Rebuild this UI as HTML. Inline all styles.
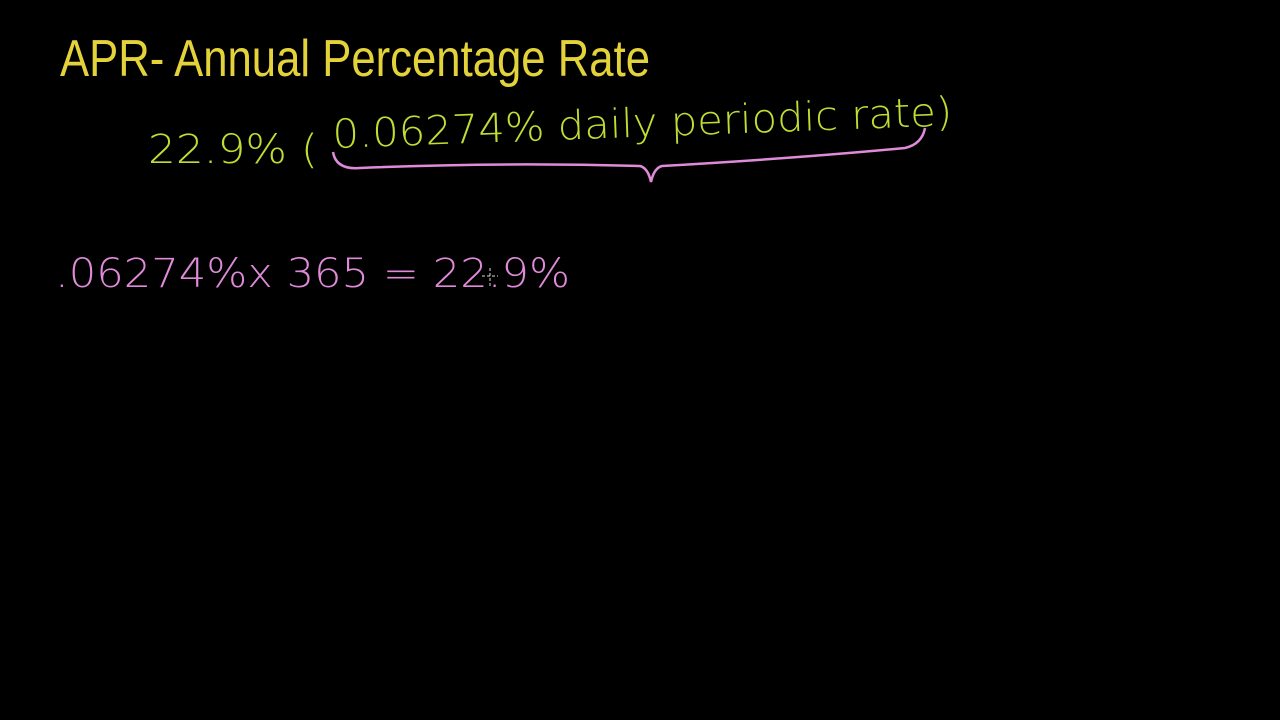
<!DOCTYPE html>
<html><head><meta charset="utf-8"><style>
html,body{margin:0;padding:0;background:#000;width:1280px;height:720px;overflow:hidden}
svg{display:block}
text{font-family:"DejaVu Sans","Liberation Sans",sans-serif;font-weight:200}
</style></head><body>
<svg width="1280" height="720" viewBox="0 0 1280 720">
<rect width="1280" height="720" fill="#000"/>
<text x="60" y="76" font-size="52" fill="#e3d23a" textLength="590" lengthAdjust="spacingAndGlyphs" style="font-family:'Liberation Sans Narrow','Liberation Sans',sans-serif">APR- Annual Percentage Rate</text>
<text x="148" y="163" font-size="40" fill="#c2dc34" textLength="170" lengthAdjust="spacingAndGlyphs">22.9% (</text>
<text x="333" y="148" font-size="40" fill="#c2dc34" textLength="620" lengthAdjust="spacingAndGlyphs" transform="rotate(-2.1 333 148)">0.06274% daily periodic rate)</text>
<path d="M333 152 Q336 170 360 168 Q500 162 640 166 Q648 168 651 182 Q654 168 662 166 Q800 158 905 148 Q922 144 925 128" fill="none" stroke="#e08ada" stroke-width="2.5"/>
<text x="55" y="287" font-size="40" fill="#e08ada" textLength="515" lengthAdjust="spacingAndGlyphs">.06274%x 365  =  22.9%</text>
<g stroke="#ddd" stroke-width="1">
<line x1="482" y1="276" x2="498" y2="276" stroke-dasharray="3,2"/>
<line x1="490" y1="268" x2="490" y2="286" stroke-dasharray="3,2"/>
</g>
</svg>
</body></html>
